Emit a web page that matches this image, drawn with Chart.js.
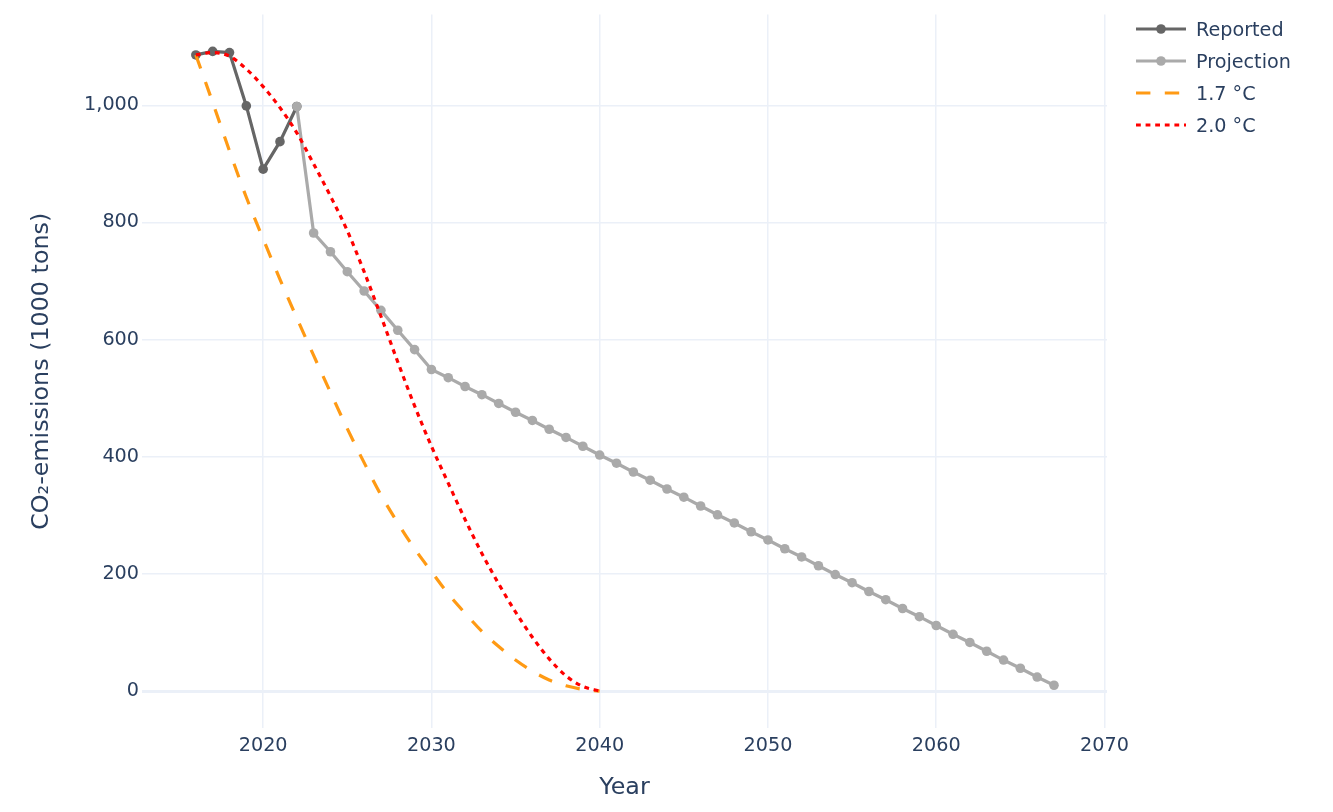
<!DOCTYPE html>
<html>
<head>
<meta charset="utf-8">
<title>CO2 emissions</title>
<script src="https://cdn.jsdelivr.net/npm/chart.js@4.4.1/dist/chart.umd.min.js"></script>
<style>
  html, body { margin: 0; padding: 0; background: #fff; }
</style>
</head>
<body>
<canvas id="emissionsChart" width="1333" height="812"></canvas>
<script>
// Data
const reportedYears = [2016, 2017, 2018, 2019, 2020, 2021, 2022];
const reportedValues = [1086, 1092, 1090, 999, 891, 938, 998];

const projectionYears = [
  2022, 2023, 2024, 2025, 2026, 2027, 2028, 2029, 2030, 2031, 2032, 2033,
  2034, 2035, 2036, 2037, 2038, 2039, 2040, 2041, 2042, 2043, 2044, 2045,
  2046, 2047, 2048, 2049, 2050, 2051, 2052, 2053, 2054, 2055, 2056, 2057,
  2058, 2059, 2060, 2061, 2062, 2063, 2064, 2065, 2066, 2067,
];
const projectionValues = [
  998, 782, 750, 716, 683, 650, 616, 583, 549, 535, 520, 506,
  491, 476, 462, 447, 433, 418, 403, 389, 374, 360, 345, 331,
  316, 301, 287, 272, 258, 243, 229, 214, 199, 185, 170, 156,
  141, 127, 112, 97, 83, 68, 53, 39, 24, 10,
];

const pathwayYears = [
  2016, 2017, 2018, 2019, 2020, 2021, 2022, 2023, 2024, 2025, 2026, 2027,
  2028, 2029, 2030, 2031, 2032, 2033, 2034, 2035, 2036, 2037, 2038, 2039, 2040,
];
const pathway17 = [
  1086, 1005, 922, 843, 772, 703, 637, 573, 510, 448, 390, 335,
  287, 243, 204, 166, 133, 102, 76, 53, 34, 19, 9, 3, 0,
];
const pathway20 = [
  1086, 1090, 1084, 1062, 1032, 996, 953, 900, 845, 786, 716, 640,
  562, 487, 418, 355, 293, 235, 183, 135, 92, 55, 26, 8, 0,
];

const xTicks = [2020, 2030, 2040, 2050, 2060, 2070];
const yTicks = [0, 200, 400, 600, 800, 1000];

// Styles
const textColor = "#2a3f5f";
const gridColor = "#ebf0f8";
const reportedColor = "#666666";
const projectionColor = "#aaaaaa";
const orangeColor = "#ff9a14";
const redColor = "#ff0000";
const fontFamily = "Verdana, 'DejaVu Sans', sans-serif";

function toPoints(xs, ys) {
  return xs.map((x, i) => ({ x: x, y: ys[i] }));
}

const legendItems = [
  { label: "Reported", color: reportedColor, dash: [], marker: true },
  { label: "Projection", color: projectionColor, dash: [], marker: true },
  { label: "1.7 \u00b0C", color: orangeColor, dash: [14.4, 14.4], marker: false },
  { label: "2.0 \u00b0C", color: redColor, dash: [4.8, 4.8], marker: false },
];

// legend drawn by hand on the right, like the plotly one
const sideLegend = {
  id: "sideLegend",
  afterDraw(chart) {
    const ctx = chart.ctx;
    ctx.save();
    legendItems.forEach((item, i) => {
      const y = 29 + i * 32;
      ctx.strokeStyle = item.color;
      ctx.lineWidth = 3.2;
      ctx.setLineDash(item.dash);
      ctx.beginPath();
      ctx.moveTo(1136, y);
      ctx.lineTo(1186, y);
      ctx.stroke();
      ctx.setLineDash([]);
      if (item.marker) {
        ctx.fillStyle = item.color;
        ctx.beginPath();
        ctx.arc(1161, y, 4.8, 0, Math.PI * 2);
        ctx.fill();
      }
      ctx.fillStyle = textColor;
      ctx.font = "19.2px " + fontFamily;
      ctx.textBaseline = "middle";
      ctx.fillText(item.label, 1196, y + 2);
    });
    ctx.restore();
  },
};

const ctx = document.getElementById("emissionsChart");
new Chart(ctx, {
  type: "line",
  data: {
    datasets: [
      {
        label: "Reported",
        data: toPoints(reportedYears, reportedValues),
        borderColor: reportedColor,
        backgroundColor: reportedColor,
        borderWidth: 3.2,
        pointRadius: 4.8,
        pointBorderWidth: 0,
        tension: 0,
        order: 3,
      },
      {
        label: "Projection",
        data: toPoints(projectionYears, projectionValues),
        borderColor: projectionColor,
        backgroundColor: projectionColor,
        borderWidth: 3.2,
        pointRadius: 4.8,
        pointBorderWidth: 0,
        tension: 0,
        order: 2,
      },
      {
        label: "1.7 °C",
        data: toPoints(pathwayYears, pathway17),
        borderColor: orangeColor,
        borderWidth: 3.2,
        borderDash: [14.4, 14.4],
        pointRadius: 0,
        cubicInterpolationMode: "monotone",
        order: 1,
      },
      {
        label: "2.0 °C",
        data: toPoints(pathwayYears, pathway20),
        borderColor: redColor,
        borderWidth: 3.2,
        borderDash: [4.8, 4.8],
        pointRadius: 0,
        cubicInterpolationMode: "monotone",
        order: 0,
      },
    ],
  },
  options: {
    responsive: false,
    animation: false,
    layout: {
      padding: { top: 10, right: 226, bottom: 0, left: 0 },
    },
    plugins: {
      legend: { display: false },
      tooltip: { enabled: false },
    },
    scales: {
      x: {
        type: "linear",
        min: 2012.8,
        max: 2070.15,
        afterBuildTicks: (scale) => {
          scale.ticks = xTicks.map((v) => ({ value: v }));
        },
        afterFit: (scale) => {
          scale.height = 84;
        },
        grid: { color: gridColor, lineWidth: 1.5, drawTicks: false },
        border: { display: false },
        ticks: {
          color: textColor,
          font: { family: fontFamily, size: 19.2 },
          padding: 6,
          maxRotation: 0,
          callback: (v) => String(v),
        },
        title: {
          display: true,
          text: "Year",
          color: textColor,
          font: { family: fontFamily, size: 23.8 },
          padding: { top: 0, bottom: 9.7 },
        },
      },
      y: {
        type: "linear",
        min: -63,
        max: 1155,
        afterBuildTicks: (scale) => {
          scale.ticks = yTicks.map((v) => ({ value: v }));
        },
        afterFit: (scale) => {
          scale.width = 142;
        },
        grid: {
          color: gridColor,
          lineWidth: (c) => (c.tick && c.tick.value === 0 ? 3 : 1.5),
          drawTicks: false,
        },
        border: { display: false },
        ticks: {
          color: textColor,
          font: { family: fontFamily, size: 19.2 },
          padding: 3,
          callback: (v) => v.toLocaleString("en-US"),
        },
        title: {
          display: true,
          text: "CO\u2082-emissions (1000 tons)",
          color: textColor,
          font: { family: fontFamily, size: 23.8 },
          padding: { top: 27.7, bottom: 0 },
        },
      },
    },
  },
  plugins: [sideLegend],
});
</script>
</body>
</html>
